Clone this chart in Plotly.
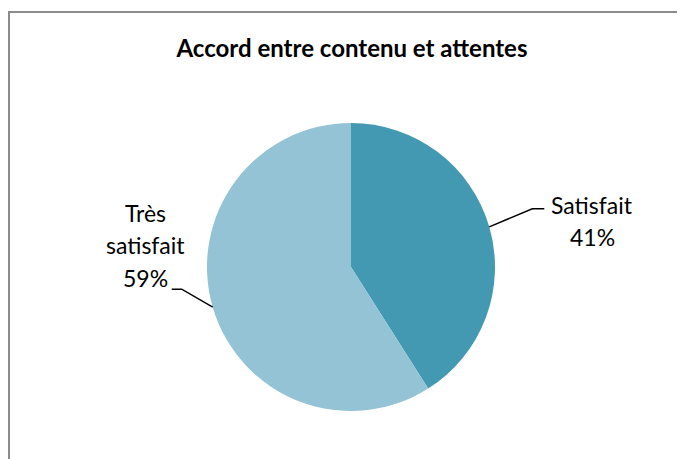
import math
import plotly.graph_objects as go

labels = ["Satisfait", "Très satisfait"]
values = [41, 59]
colors = ["#4399B1", "#93C3D5"]
title = "Accord entre contenu et attentes"

W, H = 685, 459
OFF = 8  # page body margin offset
cx, cy, r = 351 - OFF, 267 - OFF, 144  # pie geometry in px

fig = go.Figure(go.Pie(
    labels=labels, values=values, sort=False, direction="clockwise", rotation=0,
    marker=dict(colors=colors, line=dict(width=0)),
    textinfo="none", hoverinfo="label+percent", showlegend=False,
    domain=dict(x=[(cx - r) / W, (cx + r) / W], y=[1 - (cy + r) / H, 1 - (cy - r) / H]),
))

def px(x, y):
    return x / W, 1 - y / H

# label placement per slice (layout only): elbow offset, horizontal tail, text centre
placement = [
    dict(elbow=(43, -18), tail=12, text=(592 - OFF, 221 - OFF)),
    dict(elbow=(-31, -18), tail=-10, text=(145 - OFF, 245 - OFF)),
]
font = dict(family="Lato, Open Sans, sans-serif", size=23, color="#000000")
line_gap = 32.5
total = sum(values)
cum = 0
for lab, v, pl in zip(labels, values, placement):
    mid = (cum + v / 2) / total * 2 * math.pi
    cum += v
    ex, ey = cx + r * math.sin(mid), cy - r * math.cos(mid)
    bx, by = ex + pl["elbow"][0], ey + pl["elbow"][1]
    tx = bx + pl["tail"]
    pts = [px(ex, ey), px(bx, by), px(tx, by)]
    path = "M {} {} L {} {} L {} {}".format(*[c for p in pts for c in p])
    fig.add_shape(type="path", path=path, xref="paper", yref="paper",
                  line=dict(color="#000000", width=1.5))
    lines = lab.split(" ") + ["{}%".format(round(v / total * 100))]
    n = len(lines)
    for i, t in enumerate(lines):
        yy = pl["text"][1] + (i - (n - 1) / 2) * line_gap
        X, Y = px(pl["text"][0], yy)
        fig.add_annotation(x=X, y=Y, xref="paper", yref="paper", text=t,
                           showarrow=False, font=font, xanchor="center", yanchor="middle")

# chart border
fig.add_shape(type="rect", xref="paper", yref="paper",
              x0=(9 - OFF) / W, x1=1.02, y0=-0.02, y1=1 - (12 - OFF) / H,
              line=dict(color="#8C8C8C", width=2), fillcolor="rgba(0,0,0,0)")

fig.update_layout(
    width=W, height=H, margin=dict(l=0, r=0, t=0, b=0),
    paper_bgcolor="white", plot_bgcolor="white",
    title=dict(text="<b>" + title + "</b>", x=(352 - OFF) / W, xanchor="center",
               y=1 - (49 - OFF) / H, yanchor="middle",
               font=dict(family="Lato, Open Sans, sans-serif", size=24, color="#000000")),
)
fig.write_html("out.html")
